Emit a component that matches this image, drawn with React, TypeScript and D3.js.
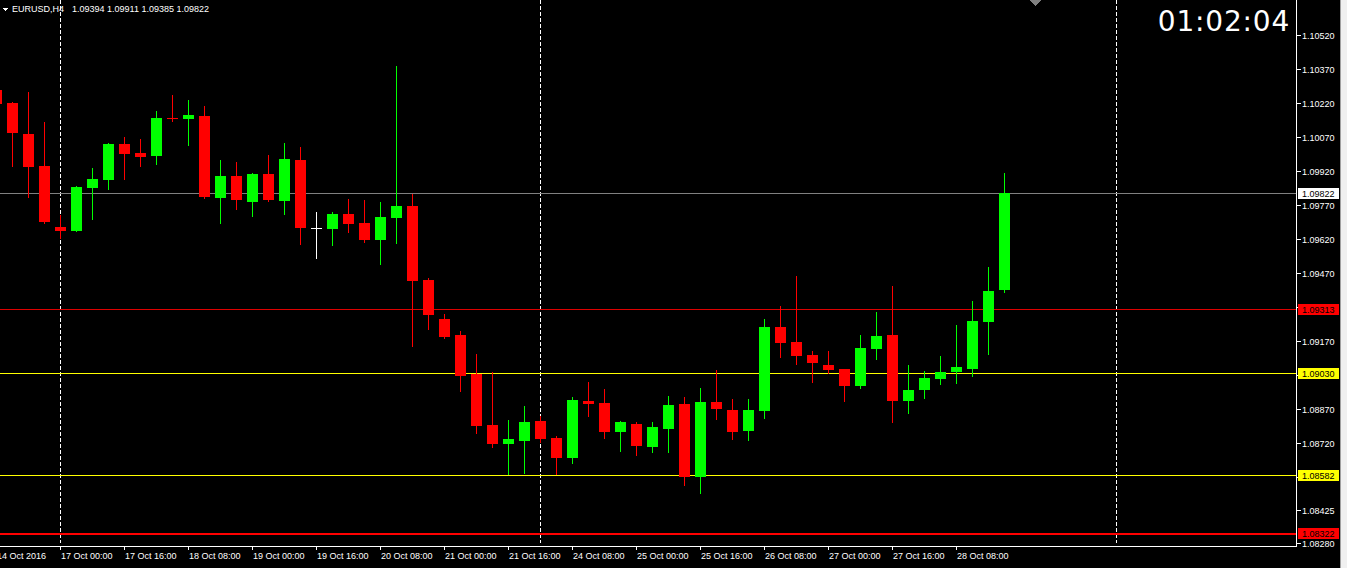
import React from "react";
import * as d3 from "d3";

// ---- data (EURUSD H4) ----
const opens = [
  1.10277, 1.1022, 1.10083, 1.09942, 1.09673, 1.09656, 1.09845, 1.09881, 1.10039, 1.1, 1.09986, 1.10154, 1.1015,
  1.10163, 1.09801, 1.09898, 1.09784, 1.09907, 1.09788, 1.09969, 1.09669, 1.09664, 1.09731, 1.09691, 1.09616,
  1.09713, 1.09766, 1.0944, 1.09268, 1.09197, 1.09025, 1.088, 1.08716, 1.0873, 1.08818, 1.08743, 1.08655, 1.08906,
  1.08897, 1.08769, 1.08805, 1.08703, 1.08782, 1.08893, 1.08571, 1.08902, 1.08866, 1.08774, 1.08862, 1.09232,
  1.09166, 1.09109, 1.09065, 1.09047, 1.08972, 1.09135, 1.09197, 1.08906, 1.08954, 1.09003, 1.09034, 1.09047,
  1.09254, 1.09394,
];
const highs = [
  1.103, 1.10225, 1.10269, 1.10136, 1.09726, 1.09854, 1.09933, 1.10044, 1.1007, 1.10061, 1.10185, 1.10255, 1.10233,
  1.10207, 1.09969, 1.0996, 1.09911, 1.09991, 1.10044, 1.10026, 1.09739, 1.09739, 1.09797, 1.09792, 1.09784,
  1.10383, 1.09819, 1.09448, 1.0929, 1.09215, 1.09113, 1.09034, 1.08822, 1.08884, 1.0884, 1.08752, 1.08924, 1.0899,
  1.08959, 1.08818, 1.08813, 1.08813, 1.08928, 1.08924, 1.08963, 1.09043, 1.08915, 1.08915, 1.09268, 1.09325,
  1.09457, 1.09126, 1.09126, 1.09047, 1.09197, 1.09298, 1.09413, 1.09065, 1.09038, 1.09104, 1.09241, 1.09347,
  1.09497, 1.09911,
];
const lows = [
  1.10207, 1.09942, 1.09806, 1.09691, 1.09625, 1.09656, 1.09709, 1.09841, 1.09885, 1.09942, 1.09951, 1.10141,
  1.10035, 1.09801, 1.09691, 1.09753, 1.09722, 1.09788, 1.09731, 1.09598, 1.09537, 1.09594, 1.09651, 1.09607,
  1.0951, 1.09603, 1.09149, 1.09224, 1.09184, 1.0895, 1.08765, 1.08703, 1.08584, 1.08588, 1.08725, 1.08584,
  1.08633, 1.0884, 1.08743, 1.08685, 1.08668, 1.08681, 1.08681, 1.08536, 1.085, 1.08827, 1.08738, 1.08734,
  1.08831, 1.091, 1.09069, 1.0899, 1.09029, 1.08906, 1.08963, 1.09091, 1.08813, 1.08853, 1.08919, 1.08981,
  1.08985, 1.09016, 1.09113, 1.09385,
];
const closes = [
  1.10216, 1.10088, 1.09938, 1.09695, 1.09656, 1.0985, 1.09885, 1.10039, 1.09995, 1.09982, 1.10154, 1.1015, 1.10167,
  1.09806, 1.09898, 1.09792, 1.09907, 1.09792, 1.09973, 1.09669, 1.09669, 1.09731, 1.09687, 1.09616, 1.09717,
  1.09766, 1.09435, 1.09285, 1.09188, 1.09016, 1.08796, 1.08716, 1.08738, 1.08813, 1.08738, 1.08655, 1.0891,
  1.08893, 1.08769, 1.08813, 1.08708, 1.08791, 1.08888, 1.08571, 1.08902, 1.08871, 1.08769, 1.08866, 1.09232,
  1.09162, 1.09104, 1.09074, 1.09043, 1.08972, 1.0914, 1.09193, 1.08906, 1.08954, 1.09007, 1.09034, 1.09056,
  1.09259, 1.09391, 1.09822,
];

const timeLabels = [
  "14 Oct 2016", "17 Oct 00:00", "17 Oct 16:00", "18 Oct 08:00", "19 Oct 00:00", "19 Oct 16:00",
  "20 Oct 08:00", "21 Oct 00:00", "21 Oct 16:00", "24 Oct 08:00", "25 Oct 00:00", "25 Oct 16:00",
  "26 Oct 08:00", "27 Oct 00:00", "27 Oct 16:00", "28 Oct 08:00",
];
const timeLabelIndex = [0, 4, 8, 12, 16, 20, 24, 28, 32, 36, 40, 44, 48, 52, 56, 60];
const separatorIndex = [4, 34, 70];

const priceTicks = [
  1.1052, 1.1037, 1.1022, 1.1007, 1.0992, 1.0977, 1.0962, 1.0947, 1.0932, 1.0917, 1.0902, 1.0887, 1.0872,
  1.0857, 1.08425, 1.0828,
];
const levelPrices = [1.09822, 1.09313, 1.0903, 1.08582, 1.08322];
const levelColors = ["#808080", "#dd0000", "#ffff00", "#ffff00", "#ff0000"];
const levelWidths = [1, 1, 1, 1, 2];
const levelBoxColors = ["#ffffff", "#ff0000", "#ffff00", "#ffff00", "#ff0000"];

const symbolText = "EURUSD,H4";
const ohlcText = "1.09394 1.09911 1.09385 1.09822";
const timerText = "01:02:04";

const W = 1347;
const H = 568;
const FRAME_X = 1296;
const FRAME_Y = 546;
const FONT = "'Liberation Sans', Arial, sans-serif";

export default function App() {
  const x = d3.scaleLinear().domain([0, 1]).range([-4, 12]);
  const y = d3.scaleLinear().domain([1.0828, 1.1052]).range([543, 35]);
  const fmt = d3.format(".5f");

  const candles = opens.map((o, i) => ({ o, h: highs[i], l: lows[i], c: closes[i], i }));

  return (
    <div style={{ position: "fixed", left: 0, top: 0, width: W, height: H, background: "#000" }}>
      <svg width={W} height={H} style={{ display: "block" }} shapeRendering="crispEdges">
        <rect x={0} y={0} width={W} height={H} fill="#000" />
        <defs>
          <clipPath id="plot">
            <rect x={0} y={0} width={FRAME_X} height={FRAME_Y} />
          </clipPath>
        </defs>
        <g clipPath="url(#plot)">
          {separatorIndex.map((s) => (
            <line
              key={s}
              x1={Math.round(x(s)) + 0.5}
              x2={Math.round(x(s)) + 0.5}
              y1={0}
              y2={543}
              stroke="#ffffff"
              strokeWidth={1}
              strokeDasharray="4,2"
            />
          ))}
          {levelPrices.map((p, i) => (
            <rect key={p} x={0} y={Math.round(y(p))} width={FRAME_X} height={levelWidths[i]} fill={levelColors[i]} />
          ))}
          {candles.map((d) => {
            const cx = Math.round(x(d.i));
            const col = d.c > d.o ? "#00ff00" : d.c < d.o ? "#ff0000" : "#ffffff";
            const yh = Math.round(y(d.h));
            const yl = Math.round(y(d.l));
            const yo = Math.round(y(d.o));
            const yc = Math.round(y(d.c));
            const top = Math.min(yo, yc);
            const hgt = Math.max(1, Math.abs(yo - yc));
            return (
              <g key={d.i}>
                <rect x={cx} y={yh} width={1} height={Math.max(1, yl - yh + 1)} fill={col} />
                <rect x={cx - 5} y={top} width={11} height={hgt} fill={col} />
              </g>
            );
          })}
        </g>

        {/* header */}
        <polygon points="2,8 8,8 5,11" fill="#ffffff" />
        <text x={12} y={12} fill="#ffffff" fontFamily={FONT} fontSize={9}>
          {symbolText}
        </text>
        <text x={72} y={12} fill="#ffffff" fontFamily={FONT} fontSize={9}>
          {ohlcText}
        </text>
        <polygon points="1029,0 1041,0 1035,6" fill="#808080" />

        {/* timer */}
        <text
          x={1290}
          y={31}
          fill="#ffffff"
          fontFamily="'DejaVu Sans', sans-serif"
          fontSize={28}
          letterSpacing={0.8}
          textAnchor="end"
        >
          {timerText}
        </text>

        {/* frame */}
        <rect x={FRAME_X} y={0} width={1} height={FRAME_Y + 1} fill="#ffffff" />
        <rect x={0} y={FRAME_Y} width={FRAME_X + 1} height={1} fill="#ffffff" />

        {/* price axis */}
        {priceTicks.map((p) => {
          const yy = Math.round(y(p));
          return (
            <g key={p}>
              <rect x={FRAME_X + 1} y={yy} width={4} height={1} fill="#ffffff" />
              <text x={1302} y={yy + 3.5} fill="#ffffff" fontFamily={FONT} fontSize={9}>
                {fmt(p)}
              </text>
            </g>
          );
        })}
        {levelPrices.map((p, i) => {
          const yy = Math.round(y(p));
          return (
            <g key={"b" + p}>
              <rect x={1298} y={yy - 5} width={41} height={11} fill={levelBoxColors[i]} />
              <text x={1302} y={yy + 3.5} fill="#000000" fontFamily={FONT} fontSize={9}>
                {fmt(p)}
              </text>
            </g>
          );
        })}

        {/* time axis */}
        {timeLabels.map((t, j) => {
          const xx = Math.round(x(timeLabelIndex[j]));
          return (
            <g key={t}>
              <rect x={xx} y={FRAME_Y} width={1} height={4} fill="#ffffff" />
              <text x={xx + 1} y={558.5} fill="#ffffff" fontFamily={FONT} fontSize={9}>
                {t}
              </text>
            </g>
          );
        })}

        {/* window edges */}
        <rect x={1340} y={0} width={1} height={H} fill="#a0a0a0" />
        <rect x={1341} y={0} width={6} height={H} fill="#f0f0f0" />
      </svg>
    </div>
  );
}
